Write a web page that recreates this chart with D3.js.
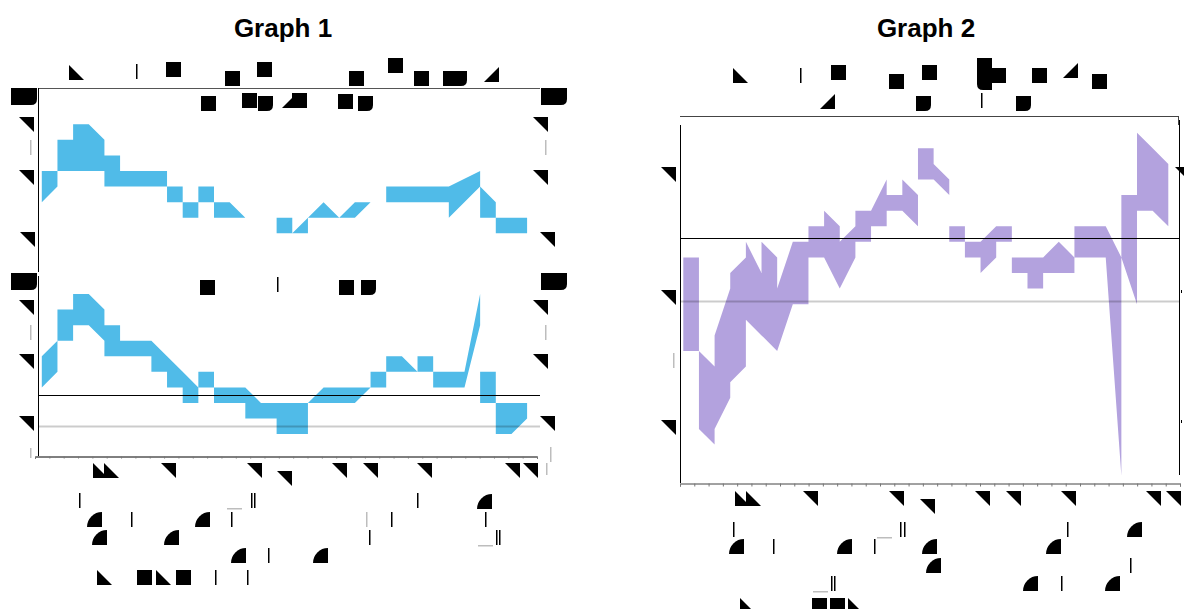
<!DOCTYPE html>
<html>
<head>
<meta charset="utf-8">
<script src="https://cdn.jsdelivr.net/npm/d3@7/dist/d3.min.js"></script>
<style>
  body { margin: 0; background: #fff; }
  svg { display: block; }
</style>
</head>
<body>
<div class="svg-container"></div>
<script>
// bands: [column, upper, lower] ; [col, null, null] breaks the band
const graph1TopBand = [
  [0, 4, 2], [1, 4, 3], [1, 6, 4], [2, 6, 4], [2, 7, 4], [3, 7, 4], [4, 6, 4], [4, 5, 3],
  [5, 5, 3], [5, 4, 3], [8, 4, 3], [8, 3, 2], [9, 3, 2], [9, 2, 1], [10, 2, 1], [10, 3, 2],
  [11, 3, 2], [11, 2, 1], [12, 2, 1], [13, 1, 1], [14, null, null],
  [15, 1, 0], [16, 1, 0], [16, 0, 0], [17, 1, 0], [17, 1, 1], [18, 2, 1], [19, 1, 1],
  [20, 2, 1], [21, 2, 2], [21.5, null, null],
  [22, 3, 2], [26, 3, 2], [26, 3, 1], [28, 4, 3], [28, 3, 1], [29, 2, 1], [29, 1, 0], [31, 1, 0]
];
const graph1BottomBand = [
  [0, 5, 3], [1, 6, 4], [1, 8, 6], [2, 8, 6], [2, 9, 7], [3, 9, 7], [4, 8, 6], [4, 7, 5],
  [5, 7, 5], [5, 6, 5], [7, 6, 5], [7, 6, 4], [8, 5, 4], [8, 5, 3], [9, 4, 3], [9, 4, 2],
  [10, 3, 2], [10, 4, 3], [11, 4, 3], [11, 3, 2], [13, 3, 2], [13, 3, 1], [14, 2, 1],
  [15, 2, 1], [15, 2, 0], [17, 2, 0], [17, 2, 2], [18, 3, 2], [20, 3, 2], [21, 3, 3],
  [21, 4, 3], [22, 4, 3], [22, 5, 4], [23, 5, 4], [24, 4, 4], [24, 5, 4], [25, 5, 4],
  [25, 4, 3], [27, 4, 3], [28, 9, 7], [28, 4, 2], [29, 4, 2], [29, 2, 0], [30, 2, 0], [31, 2, 1]
];
const graph2Band = [
  [0, 14, 8], [1, 14, 8], [1, 8, 3], [2, 7, 2], [2, 9, 3], [3, 12, 5], [3, 13, 6], [4, 14, 7],
  [4, 15, 10], [5, 13, 9], [5, 15, 9], [6, 14, 8], [6, 12, 8], [7, 15, 11], [8, 15, 11],
  [8, 16, 14], [9, 16, 14], [9, 17, 14], [10, 16, 12], [10, 15, 12], [11, 16, 14], [11, 17, 15],
  [12, 17, 15], [12, 17, 16], [13, 19, 16], [13, 18, 17], [14, 18, 17], [14, 19, 17],
  [15, 18, 16], [15, 21, 19], [16, 21, 19], [16, 20, 19], [17, 19, 18], [17, 16, 15],
  [18, 16, 15], [18, 15, 14], [19, 15, 14], [19, 15, 13], [20, 16, 14], [20, 16, 15],
  [21, 16, 15], [21, 14, 13], [22, 14, 13], [22, 14, 12], [23, 14, 12], [23, 14, 13],
  [24, 15, 13], [25, 14, 13], [25, 16, 14], [27, 16, 14], [28, 14, 0], [28, 18, 14],
  [29, 18, 11], [29, 22, 17], [30, 21, 17], [31, 20, 16]
];
const graph1RefLines = [2.5, 0.5];
const graph2RefLines = [15.25, 11.2];
const titles = ["Graph 1", "Graph 2"];

// unreadable label text, drawn as the blocks it shows up as: [shape, x, y, w, h]
const labels1 = [
  ['bl', 69, 65], ['bar', 136, 64], ['sq', 166, 62], ['sq', 225, 71], ['sq', 257, 62],
  ['sq', 349, 71], ['sq', 388, 58], ['sq', 414, 71], ['D', 443, 71, 24], ['br', 484, 67],
  ['sq', 201, 96], ['sq', 242, 93], ['D', 258, 96], ['br', 282, 98, 10, 10], ['sq', 292, 93],
  ['sq', 338, 94], ['D', 358, 96],
  ['D', 11, 88, 26, 17], ['D', 541, 88, 26, 17], ['D', 11, 273, 26, 17], ['D', 541, 273, 26, 17],
  ['tr', 19, 117], ['tr', 19, 170], ['tr', 20, 232], ['tr', 533, 117], ['tr', 533, 170], ['tr', 540, 232],
  ['tr', 19, 300], ['tr', 19, 354], ['tr', 19, 416], ['tr', 533, 300], ['tr', 533, 354], ['tr', 540, 416],
  ['gbar', 30, 140], ['gbar', 545, 140], ['gbar', 30, 325], ['gbar', 545, 325],
  ['gbar', 30, 448, 1.5, 10], ['gbar', 550, 447], ['gbar', 546, 463, 1.5, 12],
  ['sq', 200, 280], ['bar', 277, 277], ['sq', 339, 280], ['D', 361, 280],
  ['bl', 93, 463], ['bl', 104, 463], ['tr', 161, 463], ['tr', 247, 463], ['tr', 277, 471],
  ['tr', 332, 463], ['tr', 363, 463], ['tr', 417, 463], ['tr', 505, 463], ['tr', 523, 463],
  ['bar', 79, 493], ['gub', 227, 508], ['bar', 251, 493], ['bar', 254, 493], ['bar', 417, 493], ['q', 477, 494],
  ['q', 87, 512], ['bar', 131, 512], ['q', 195, 512], ['bar', 231, 512], ['gbar', 366, 512],
  ['bar', 391, 512], ['bar', 485, 512],
  ['q', 92, 530], ['q', 164, 530], ['bar', 369, 530], ['gub', 478, 545], ['bar', 496, 530], ['bar', 499, 530],
  ['q', 231, 548], ['bar', 268, 548], ['q', 313, 548],
  ['bl', 97, 570], ['sq', 137, 570], ['bl', 156, 570], ['sq', 176, 570], ['bar', 215, 570], ['bar', 247, 570]
];
const labels2 = [
  ['bl', 733, 68], ['bar', 800, 68], ['sq', 831, 65], ['sq', 889, 74], ['sq', 922, 65],
  ['Dl', 977, 58, 15, 32], ['sq', 991, 68], ['sq', 1032, 68], ['br', 1063, 63], ['sq', 1092, 74],
  ['br', 820, 94], ['D', 916, 96], ['bar', 981, 93], ['D', 1016, 96],
  ['tr', 661, 167], ['tr', 661, 290], ['tr', 661, 420], ['tr', 1175, 167],
  ['gbar', 673, 353], ['bar', 1181, 290, 1, 3], ['bar', 1181, 420, 1, 3],
  ['bl', 735, 491], ['bl', 746, 491], ['tr', 803, 491], ['tr', 889, 491], ['tr', 920, 499],
  ['tr', 975, 491], ['tr', 1006, 491], ['tr', 1061, 491], ['tr', 1146, 491], ['tr', 1166, 491],
  ['bar', 733, 522], ['gub', 877, 537], ['bar', 900, 522], ['bar', 904, 522], ['bar', 1067, 522], ['q', 1127, 522],
  ['q', 729, 539], ['bar', 773, 539], ['q', 837, 539], ['bar', 874, 539], ['q', 922, 539], ['q', 1046, 539],
  ['q', 926, 558], ['bar', 1130, 558],
  ['gub', 813, 591], ['bar', 831, 576], ['bar', 834, 576], ['q', 1023, 576], ['bar', 1061, 576], ['q', 1105, 576],
  ['bl', 740, 598], ['sq', 812, 598], ['sq', 830, 598], ['bl', 848, 598]
];

const width = 1184;
const height = 609;
const blue = '#50bbe8';
const purple = '#b3a2de';

const svg = d3.select('.svg-container').append('svg')
  .attr('width', width)
  .attr('height', height);

// scales
const x1 = d3.scaleLinear().domain([0, 31]).range([41.8, 527.1]);
const y1Top = d3.scaleLinear().domain([0, 7]).range([233.3, 124.3]);
const y1Bottom = d3.scaleLinear().domain([0, 9]).range([434.1, 294]);
const x2 = d3.scaleLinear().domain([0, 31]).range([683.3, 1168.3]);
const y2 = d3.scaleLinear().domain([0, 22]).range([475.7, 132.7]);

function drawBand(data, x, y, color) {
  const area = d3.area()
    .defined(d => d[1] != null)
    .x(d => x(d[0]))
    .y0(d => y(d[2]))
    .y1(d => y(d[1]));
  svg.append('path')
    .datum(data)
    .attr('d', area)
    .attr('fill', color);
}

function refLines(vals, y, x0, x1v) {
  svg.selectAll(null)
    .data(vals)
    .enter()
    .append('line')
    .attr('x1', x0).attr('x2', x1v)
    .attr('y1', d => Math.round(y(d)) + 0.5)
    .attr('y2', d => Math.round(y(d)) + 0.5)
    .attr('stroke', (d, i) => i === 0 ? '#000' : 'rgba(0,0,0,0.2)')
    .attr('stroke-width', (d, i) => i === 0 ? 1 : 2);
}

function frameLine(x1p, y1p, x2p, y2p, color) {
  svg.append('line')
    .attr('x1', x1p).attr('y1', y1p).attr('x2', x2p).attr('y2', y2p)
    .attr('stroke', color || '#000')
    .attr('stroke-width', 1);
}

function glyph(g, d) {
  const [kind, x, y] = d;
  const w = d[3] || (kind === 'bar' || kind === 'gbar' ? 1.5 : 15);
  const h = d[4] || (kind === 'gub' ? 1.5 : 15);
  const r = Math.min(6, w / 2);
  let p = null;
  switch (kind) {
    case 'sq':
      g.append('rect').attr('x', x).attr('y', y).attr('width', w).attr('height', h).attr('fill', '#000');
      return;
    case 'bar':
    case 'gbar':
    case 'gub':
      g.append('rect').attr('x', x).attr('y', y).attr('width', w).attr('height', h)
        .attr('fill', kind === 'bar' ? '#000' : '#bdbdbd');
      return;
    case 'tr': p = `M${x},${y}L${x + w},${y}L${x + w},${y + h}Z`; break;
    case 'bl': p = `M${x},${y}L${x},${y + h}L${x + w},${y + h}Z`; break;
    case 'br': p = `M${x + w},${y}L${x + w},${y + h}L${x},${y + h}Z`; break;
    case 'q': p = `M${x},${y + h}A${w},${h} 0 0 1 ${x + w},${y}L${x + w},${y + h}Z`; break;
    case 'D': p = `M${x},${y}H${x + w}V${y + h - r}Q${x + w},${y + h} ${x + w - r},${y + h}H${x}Z`; break;
    case 'Dl': p = `M${x},${y}H${x + w}V${y + h}H${x + r}Q${x},${y + h} ${x},${y + h - r}Z`; break;
  }
  g.append('path').attr('d', p).attr('fill', '#000');
}

/**
 * Graph 1
 */
drawBand(graph1TopBand, x1, y1Top, blue);
drawBand(graph1BottomBand, x1, y1Bottom, blue);
refLines(graph1RefLines, y1Bottom, 38.5, 540);

frameLine(38.5, 88.5, 540, 88.5, '#555');
frameLine(38.5, 88, 38.5, 272);
frameLine(38.5, 276, 38.5, 456);

const axis1 = d3.scaleLinear().domain([0, 35]).range([35, 537]);
svg.append('g')
  .attr('transform', 'translate(0, 456.5)')
  .call(d3.axisBottom(axis1).tickValues(d3.range(0, 36)).tickSize(2).tickFormat(''))
  .call(g => g.selectAll('line').attr('stroke', '#777'))
  .call(g => g.select('.domain').attr('stroke', '#000'));

/**
 * Graph 2
 */
drawBand(graph2Band, x2, y2, purple);
refLines(graph2RefLines, y2, 680.5, 1180);

frameLine(680, 116.5, 1178, 116.5, '#444');
frameLine(1178.5, 116, 1178.5, 125, '#444');
frameLine(680.5, 125, 680.5, 483);
frameLine(1179.5, 120, 1179.5, 475);

const axis2 = d3.scaleLinear().domain([0, 35]).range([680, 1180]);
svg.append('g')
  .attr('transform', 'translate(0, 483.5)')
  .call(d3.axisBottom(axis2).tickValues(d3.range(0, 36)).tickSize(3).tickFormat(''))
  .call(g => g.selectAll('line').attr('stroke', '#777'))
  .call(g => g.select('.domain').attr('stroke', '#444'));

/**
 * titles + labels
 */
svg.selectAll('.title')
  .data(titles)
  .enter()
  .append('text')
  .attr('class', 'title')
  .attr('x', (d, i) => i === 0 ? 283 : 926)
  .attr('y', 37)
  .attr('text-anchor', 'middle')
  .style('font-family', '"Liberation Sans", Arial, sans-serif')
  .style('font-weight', 'bold')
  .style('font-size', '26px')
  .text(d => d);

const labelLayer = svg.append('g').attr('class', 'labels');
labels1.forEach(d => glyph(labelLayer, d));
labels2.forEach(d => glyph(labelLayer, d));
</script>
</body>
</html>
